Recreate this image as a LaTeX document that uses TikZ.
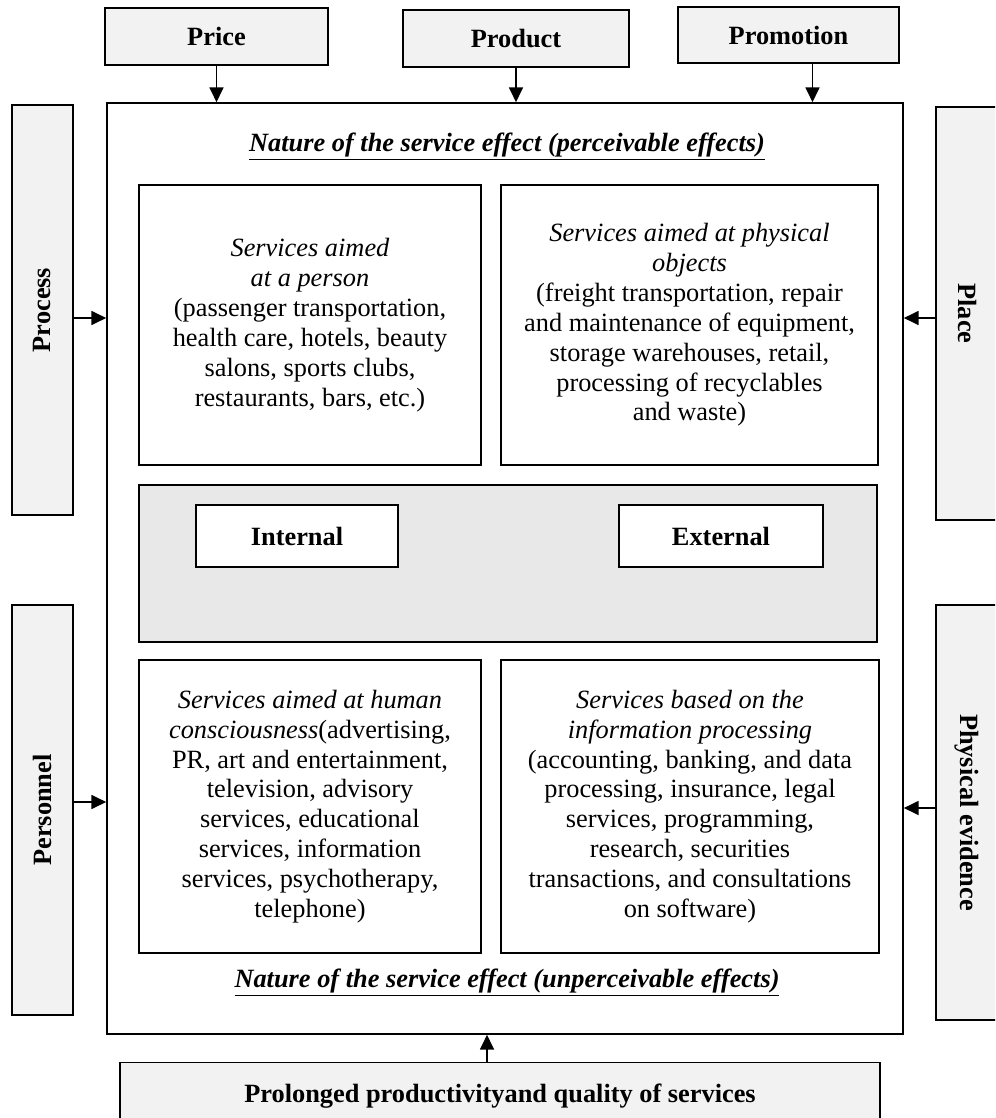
\documentclass[tikz,border=0pt]{standalone}
\usepackage{fontspec}
\setmainfont{Liberation Serif}
\usetikzlibrary{arrows.meta}

\definecolor{boxgray}{HTML}{F2F2F2}
\definecolor{midgray}{HTML}{E8E8E8}

\tikzset{
    mixbox/.style={draw, line width=0.8pt, fill=boxgray, inner sep=0pt,
        font=\fontsize{15}{17}\selectfont\bfseries},
    typebox/.style={draw, line width=0.8pt, fill=white, inner sep=0pt,
        align=center, font=\fontsize{15}{17}\selectfont},
    arr/.style={-{Triangle[length=8.5pt,width=8pt]}, line width=0.9pt}
}

\begin{document}
\begin{tikzpicture}[x=0.02cm, y=-0.02cm]
    \path[use as bounding box, clip] (0,0) rectangle (995,1118);

    % TOP: price, product, promotion
        \node[mixbox, minimum width=4.46cm, minimum height=1.14cm] (price) at (216.5,36.5) {Price};
        \node[mixbox, minimum width=4.52cm, minimum height=1.14cm] (product) at (516,38.5) {Product};
        \node[mixbox, minimum width=4.42cm, minimum height=1.12cm] (promotion) at (788.5,35) {Promotion};

    % Main frame
        \node[draw, line width=1pt, minimum width=15.92cm, minimum height=18.62cm] (main) at (505,568.5) {};

        \draw[arr] (price.south) -- (price.south |- main.north);
        \draw[arr] (product.south) -- (product.south |- main.north);
        \draw[arr] ([xshift=0.48cm]promotion.south) -- ([xshift=0.48cm]promotion.south |- main.north);

    % LEFT and RIGHT: process, personnel, place, physical evidence
        \node[mixbox, rotate=90, minimum width=8.2cm, minimum height=1.22cm] (process) at (42.5,310) {Process};
        \node[mixbox, rotate=90, minimum width=8.2cm, minimum height=1.22cm] (personnel) at (42.5,810) {Personnel};
        \node[mixbox, rotate=-90, minimum width=8.26cm, minimum height=1.24cm] (place) at (967,313.5) {Place};
        \node[mixbox, rotate=-90, minimum width=8.3cm, minimum height=1.24cm] (physical) at (967,812.5) {Physical evidence};

        \draw[arr] (process.south |- 0,318) -- (main.west |- 0,318);
        \draw[arr] (personnel.south |- 0,802) -- (main.west |- 0,802);
        \draw[arr] (place.south |- 0,318) -- (main.east |- 0,318);
        \draw[arr] (physical.south |- 0,808) -- (main.east |- 0,808);

    % Perceivable effects
        \node[font=\fontsize{15}{17}\selectfont\bfseries\itshape] (perctitle) at (507,147)
            {\underline{Nature of the service effect (perceivable effects)}};
        \node[typebox, minimum width=6.84cm, minimum height=5.6cm] (person) at (310,325)
            {\textit{Services aimed}\\ \textit{at a person}\\ (passenger transportation,\\
             health care, hotels, beauty\\ salons, sports clubs,\\ restaurants, bars, etc.)};
        \node[typebox, minimum width=7.54cm, minimum height=5.6cm] (objects) at (689.5,325)
            {\textit{Services aimed at physical}\\ \textit{objects}\\ (freight transportation, repair\\
             and maintenance of equipment,\\ storage warehouses, retail,\\
             processing of recyclables\\ and waste)};

    % Internal / external band
        \node[draw, line width=0.8pt, fill=midgray, minimum width=14.76cm, minimum height=3.14cm] (band) at (508,563.5) {};
        \node[typebox, font=\fontsize{15}{17}\selectfont\bfseries, minimum width=4.04cm, minimum height=1.24cm] (internal) at (297,536) {Internal};
        \node[typebox, font=\fontsize{15}{17}\selectfont\bfseries, minimum width=4.08cm, minimum height=1.24cm] (external) at (721,536) {External};

    % Unperceivable effects
        \node[typebox, minimum width=6.84cm, minimum height=5.86cm] (mind) at (310,806.5)
            {\textit{Services aimed at human}\\ \textit{consciousness}(advertising,\\
             PR, art and entertainment,\\ television, advisory\\ services, educational\\
             services, information\\ services, psychotherapy,\\ telephone)};
        \node[typebox, minimum width=7.56cm, minimum height=5.86cm] (info) at (690,806.5)
            {\textit{Services based on the}\\ \textit{information processing}\\
             (accounting, banking, and data\\ processing, insurance, legal\\
             services, programming,\\ research, securities\\
             transactions, and consultations\\ on software)};
        \node[font=\fontsize{15}{17}\selectfont\bfseries\itshape] (unpertitle) at (507,983)
            {\underline{Nature of the service effect (unperceivable effects)}};

    % BOTTOM
        \node[mixbox, minimum width=15.2cm, minimum height=1.34cm] (quality) at (500,1096)
            {Prolonged productivityand quality of services};
        \draw[arr] ([xshift=-0.26cm]quality.north) -- ([xshift=-0.26cm]quality.north |- main.south);
\end{tikzpicture}
\end{document}
